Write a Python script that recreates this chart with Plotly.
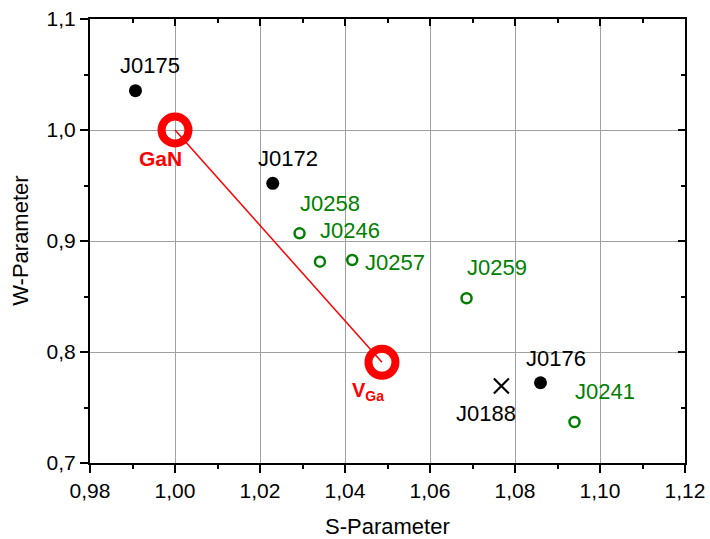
import plotly.graph_objects as go

# Positron annihilation S/W parameters per sample
ref_names = ["GaN", "V<sub>Ga</sub>"]
ref_s = [1.000, 1.0487]
ref_w = [1.000, 0.7907]

black_names = ["J0175", "J0172", "J0176"]
black_s = [0.9907, 1.0230, 1.0860]
black_w = [1.0354, 0.9520, 0.7723]

green_names = ["J0258", "J0246", "J0257", "J0259", "J0241"]
green_s = [1.0293, 1.0341, 1.0417, 1.0686, 1.0940]
green_w = [0.9069, 0.8814, 0.8829, 0.8484, 0.7369]

cross_names = ["J0188"]
cross_s = [1.0768]
cross_w = [0.7694]

x_range = [0.98, 1.12]
y_range = [0.70, 1.10]

FONT = "Arial, Liberation Sans, sans-serif"
RED = "#ff0000"
GREEN = "#008000"

fig = go.Figure()

# Line between the GaN and V_Ga reference points
fig.add_trace(go.Scatter(x=ref_s, y=ref_w, mode="lines",
                         line=dict(color=RED, width=1.5), hoverinfo="skip"))
fig.add_trace(go.Scatter(x=black_s, y=black_w, mode="markers",
                         marker=dict(symbol="circle", size=13, color="black")))
fig.add_trace(go.Scatter(x=green_s, y=green_w, mode="markers",
                         marker=dict(symbol="circle-open", size=10,
                                     color=GREEN, line=dict(width=2.5, color=GREEN))))
fig.add_trace(go.Scatter(x=cross_s, y=cross_w, mode="markers",
                         marker=dict(symbol="x-thin-open", size=15,
                                     color="black", line=dict(width=2.2, color="black"))))
fig.add_trace(go.Scatter(x=ref_s, y=ref_w, mode="markers",
                         marker=dict(symbol="circle-open", size=27,
                                     color=RED, line=dict(width=8, color=RED))))
# invisible trace to anchor the mirrored top/right axes
fig.add_trace(go.Scatter(x=x_range, y=y_range, xaxis="x2", yaxis="y2",
                         mode="markers", marker=dict(opacity=0), hoverinfo="skip"))

# label offsets in pixels (dx, dy), dy positive = up
label_offsets = {
    "J0175": (15, 25), "J0172": (15, 25), "J0176": (15, 24),
    "J0258": (30, 30), "J0246": (30, 31), "J0257": (43, -3),
    "J0259": (30, 31), "J0241": (30, 31), "J0188": (-15, -28),
}

annotations = []
for names, xs, ys, color in [(black_names, black_s, black_w, "black"),
                             (green_names, green_s, green_w, GREEN),
                             (cross_names, cross_s, cross_w, "black")]:
    for n, x, y in zip(names, xs, ys):
        dx, dy = label_offsets[n]
        annotations.append(dict(x=x, y=y, xref="x", yref="y", text=n,
                                showarrow=False, xshift=dx, yshift=dy,
                                font=dict(family=FONT, size=22, color=color)))

annotations.append(dict(x=ref_s[0], y=ref_w[0], xref="x", yref="y",
                        text="<b>GaN</b>", showarrow=False, xshift=-15, yshift=-28,
                        font=dict(family=FONT, size=21, color=RED)))
annotations.append(dict(x=ref_s[1], y=ref_w[1], xref="x", yref="y",
                        text="<b>V<sub>Ga</sub></b>", showarrow=False,
                        xshift=-14, yshift=-29,
                        font=dict(family=FONT, size=20, color=RED)))

# axis titles
annotations.append(dict(x=0.5, y=-0.142, xref="paper", yref="paper",
                        text="S-Parameter", showarrow=False, yanchor="middle",
                        font=dict(family=FONT, size=22, color="black")))
annotations.append(dict(x=-0.118, y=0.5, xref="paper", yref="paper",
                        text="W-Parameter", showarrow=False, textangle=-90,
                        xanchor="center", yanchor="middle",
                        font=dict(family=FONT, size=22, color="black")))

axis_common = dict(showline=True, linecolor="black", linewidth=2,
                   tickcolor="black", tickwidth=1.5, zeroline=False,
                   automargin=False)

fig.update_layout(
    width=710, height=539,
    margin=dict(l=90, r=25, t=19, b=76),
    paper_bgcolor="white", plot_bgcolor="white",
    showlegend=False,
    separators=",.",
    font=dict(family=FONT, size=21, color="black"),
    annotations=annotations,
    xaxis=dict(range=x_range, dtick=0.02, tick0=0.98, tickformat=".2f",
               ticks="outside", ticklen=8, showgrid=True,
               gridcolor="#a0a0a0", gridwidth=1,
               minor=dict(dtick=0.01, ticks="outside", ticklen=4,
                          tickwidth=1.5, tickcolor="black", showgrid=False),
               tickfont=dict(family=FONT, size=21), **axis_common),
    yaxis=dict(range=y_range, dtick=0.1, tick0=0.7, tickformat=".1f",
               ticks="outside", ticklen=8, showgrid=True,
               gridcolor="#a0a0a0", gridwidth=1,
               minor=dict(dtick=0.05, ticks="outside", ticklen=4,
                          tickwidth=1.5, tickcolor="black", showgrid=False),
               tickfont=dict(family=FONT, size=21), **axis_common),
    xaxis2=dict(range=x_range, overlaying="x", side="top", anchor="y",
                dtick=0.02, tick0=0.98, ticks="inside", ticklen=7,
                showticklabels=False, showgrid=False,
                minor=dict(dtick=0.01, ticks="inside", ticklen=4,
                           tickwidth=1.5, tickcolor="black", showgrid=False),
                **axis_common),
    yaxis2=dict(range=y_range, overlaying="y", side="right", anchor="x",
                dtick=0.1, tick0=0.7, ticks="inside", ticklen=7,
                showticklabels=False, showgrid=False,
                minor=dict(dtick=0.05, ticks="inside", ticklen=4,
                           tickwidth=1.5, tickcolor="black", showgrid=False),
                **axis_common),
)

fig.write_html("out.html")
